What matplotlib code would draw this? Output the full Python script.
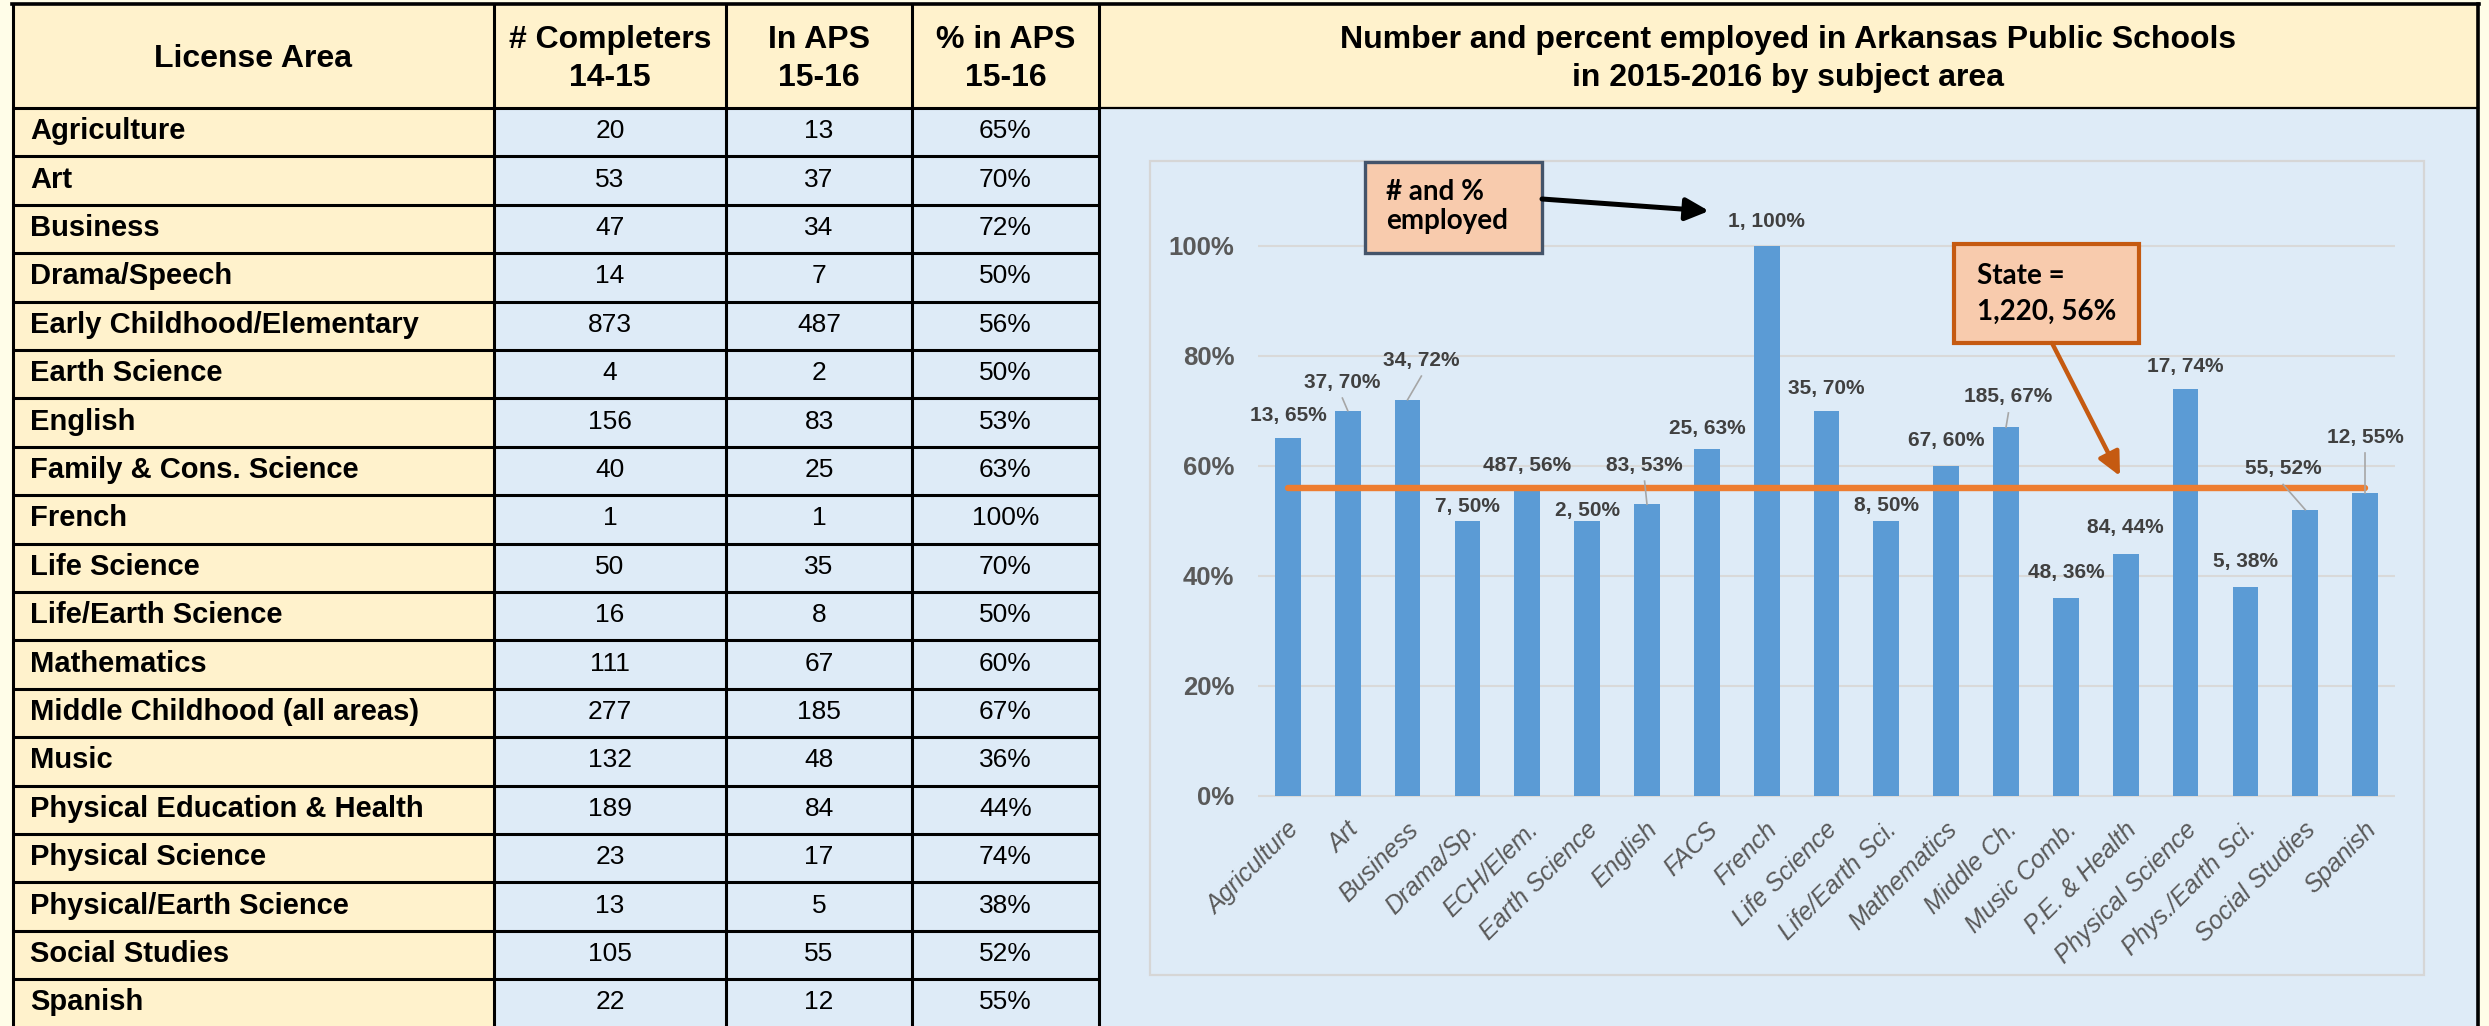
import matplotlib
matplotlib.use("Agg")
import matplotlib.pyplot as plt
from matplotlib.patches import Rectangle
from matplotlib.transforms import ScaledTranslation
import numpy as np

# ---------------- data ----------------
license_areas = ["Agriculture", "Art", "Business", "Drama/Speech", "Early Childhood/Elementary",
                 "Earth Science", "English", "Family & Cons. Science", "French", "Life Science",
                 "Life/Earth Science", "Mathematics", "Middle Childhood (all areas)", "Music",
                 "Physical Education & Health", "Physical Science", "Physical/Earth Science",
                 "Social Studies", "Spanish"]
completers = [20, 53, 47, 14, 873, 4, 156, 40, 1, 50, 16, 111, 277, 132, 189, 23, 13, 105, 22]
in_aps = [13, 37, 34, 7, 487, 2, 83, 25, 1, 35, 8, 67, 185, 48, 84, 17, 5, 55, 12]
pct_in_aps = [65, 70, 72, 50, 56, 50, 53, 63, 100, 70, 50, 60, 67, 36, 44, 74, 38, 52, 55]

chart_categories = ["Agriculture", "Art", "Business", "Drama/Sp.", "ECH/Elem.", "Earth Science",
                    "English", "FACS", "French", "Life Science", "Life/Earth Sci.", "Mathematics",
                    "Middle Ch.", "Music Comb.", "P.E. & Health", "Physical Science",
                    "Phys./Earth Sci.", "Social Studies", "Spanish"]
state_count = "1,220"
state_pct = 56

headers = [["License Area"], ["# Completers", "14-15"], ["In APS", "15-16"], ["% in APS", "15-16"]]
chart_title = ["Number and percent employed in Arkansas Public Schools", "in 2015-2016 by subject area"]
yticks = [0, 20, 40, 60, 80, 100]

# ---------------- layout (pixels / offsets) ----------------
W, H, DPI = 2489, 1026, 100
col_x = [13, 494, 726, 912, 1099]
panel_r = 2478
top_y, head_b, row_h = 4, 108, 48.4
# data label placement: (x offset in category units, y position in fraction)
lab_dx = [0, -0.09, 0.23, 0, 0, 0, -0.04, 0, 0, 0, 0, 0, 0.04, 0, 0, 0, 0, -0.37, 0]
lab_y = [0.691, 0.752, 0.792, 0.525, 0.601, 0.518, 0.601, 0.667, 1.044, 0.741, 0.527,
         0.645, 0.725, 0.406, 0.487, 0.781, 0.426, 0.595, 0.652]
leader = [0, 1, 1, 0, 0, 0, 1, 0, 0, 0, 0, 0, 1, 0, 0, 0, 0, 1, 1]

YEL = "#FFF2CC"
BLUE = "#DEEBF7"
plt.rcParams["font.family"] = ["Liberation Sans", "DejaVu Sans"]

fig = plt.figure(figsize=(W / DPI, H / DPI), dpi=DPI)
fig.patch.set_facecolor("#FFFDE8")

bg = fig.add_axes([0, 0, 1, 1])
bg.set_xlim(0, W); bg.set_ylim(H, 0); bg.axis("off"); bg.set_zorder(0)

# cell fills
bg.add_patch(Rectangle((col_x[0], top_y), col_x[4] - col_x[0], head_b - top_y, fc=YEL, ec="none"))
bg.add_patch(Rectangle((col_x[4], top_y), panel_r - col_x[4], head_b - top_y, fc=YEL, ec="none"))
bg.add_patch(Rectangle((col_x[0], head_b), col_x[1] - col_x[0], H - head_b, fc=YEL, ec="none"))
bg.add_patch(Rectangle((col_x[1], head_b), col_x[4] - col_x[1], H - head_b, fc=BLUE, ec="none"))
bg.add_patch(Rectangle((col_x[4], head_b), panel_r - col_x[4], H - head_b, fc=BLUE, ec="none"))
# chart area border
bg.add_patch(Rectangle((1150, 161), 2424 - 1150, 975 - 161, fc="none", ec="#D6D6D6", lw=1.6))

# table lines
n = len(license_areas)
for i in range(n + 1):
    y = head_b + i * row_h
    bg.plot([col_x[0], col_x[4]], [y, y], color="black", lw=2.2, solid_capstyle="butt")
for x in col_x:
    bg.plot([x, x], [top_y, H], color="black", lw=2.2, solid_capstyle="butt")
bg.plot([col_x[0] - 1, panel_r + 1], [top_y, top_y], color="black", lw=2.6)
bg.plot([panel_r, panel_r], [top_y, H], color="black", lw=2.6)
bg.plot([col_x[4], panel_r], [head_b, head_b], color="black", lw=1.6)

# header texts
for j, lines in enumerate(headers):
    cx = (col_x[j] + col_x[j + 1]) / 2
    ys = [59] if len(lines) == 1 else [40, 78]
    for t, y in zip(lines, ys):
        bg.text(cx, y, t, ha="center", va="center", fontsize=23, fontweight="bold", color="black")
for t, y in zip(chart_title, [40, 78]):
    bg.text((col_x[4] + panel_r) / 2, y, t, ha="center", va="center", fontsize=23,
            fontweight="bold", color="black")

# table rows
for i in range(n):
    cy = head_b + (i + 0.5) * row_h - 1
    bg.text(30, cy, license_areas[i], ha="left", va="center", fontsize=21, fontweight="bold")
    vals = [str(completers[i]), str(in_aps[i]), f"{pct_in_aps[i]}%"]
    for j, v in enumerate(vals):
        cx = (col_x[j + 1] + col_x[j + 2]) / 2
        bg.text(cx, cy, v, ha="center", va="center", fontsize=19)

# ---------------- chart ----------------
px0, px1 = 1258, 2395
y0px, ppu = 795.7, 550.0
ymin, ymax = -0.05, 1.2
bot = y0px - ymin * ppu
top = y0px - ymax * ppu
ax = fig.add_axes([px0 / W, 1 - bot / H, (px1 - px0) / W, (bot - top) / H])
ax.set_zorder(1)
ax.patch.set_alpha(0)
x = np.arange(len(chart_categories))
vals = np.array(pct_in_aps) / 100.0
ax.bar(x, vals, width=0.43, color="#5B9BD5", zorder=2)
ax.hlines(state_pct / 100.0, x[0], x[-1], color="#ED7D31", lw=4.6, zorder=3, capstyle="round")
ax.set_xlim(-0.5, len(x) - 0.5)
ax.set_ylim(ymin, ymax)
ax.set_yticks(np.array(yticks) / 100.0)
ax.set_yticklabels([f"{t}%" for t in yticks], fontsize=18.5, fontweight="bold", color="#595959")
ax.grid(axis="y", color="#D9D9D9", lw=1.5, zorder=0)
ax.set_axisbelow(True)
for s in ax.spines.values():
    s.set_visible(False)
ax.tick_params(axis="both", length=0)
ax.tick_params(axis="y", pad=17)
ax.set_xticks(x)
ax.set_xticklabels(chart_categories, rotation=45, ha="right", va="center",
                   rotation_mode="anchor", fontsize=18, fontstyle="italic", color="#595959")
ax.tick_params(axis="x", pad=2)
off = ScaledTranslation(7 / DPI, 0, fig.dpi_scale_trans)
for lbl in ax.get_xticklabels():
    lbl.set_transform(lbl.get_transform() + off)

lead_px = 16 / ppu
for i in range(len(x)):
    lx = x[i] + lab_dx[i]
    ax.text(lx, lab_y[i], f"{in_aps[i]}, {pct_in_aps[i]}%", ha="center", va="center",
            fontsize=15, fontweight="bold", color="#404040", zorder=5, clip_on=False)
    if leader[i]:
        ax.plot([lx, x[i]], [lab_y[i] - lead_px, vals[i]], color="#A6A6A6", lw=1.2, zorder=4)

# ---------------- callouts ----------------
ov = fig.add_axes([0, 0, 1, 1])
ov.set_xlim(0, W); ov.set_ylim(H, 0); ov.axis("off"); ov.set_zorder(3)
ov.patch.set_alpha(0)
ov.add_patch(Rectangle((1365, 162), 177, 91, fc="#F8CBAD", ec="#44546A", lw=2.4))
ov.text(1386, 200, "# and %", ha="left", va="baseline", fontsize=20, fontweight="bold",
        family=["Lato", "DejaVu Sans"])
ov.text(1386, 229, "employed", ha="left", va="baseline", fontsize=20, fontweight="bold",
        family=["Lato", "DejaVu Sans"])
ov.annotate("", xy=(1709, 211), xytext=(1542, 199),
            arrowprops=dict(arrowstyle="-|>,head_length=0.7,head_width=0.34", lw=3.6,
                            color="black", shrinkA=0, shrinkB=0, mutation_scale=20))

ov.add_patch(Rectangle((1954, 244), 185, 99, fc="#F8CBAD", ec="#C55A11", lw=3.0))
ov.text(1977, 284, "State =", ha="left", va="baseline", fontsize=20, fontweight="bold",
        family=["Lato", "DejaVu Sans"])
ov.text(1977, 320, f"{state_count}, {state_pct}%", ha="left", va="baseline", fontsize=20,
        fontweight="bold", family=["Lato", "DejaVu Sans"])
ov.annotate("", xy=(2120, 476), xytext=(2052, 343),
            arrowprops=dict(arrowstyle="-|>,head_length=0.7,head_width=0.34", lw=3.2,
                            color="#C55A11", shrinkA=0, shrinkB=0, mutation_scale=20))

fig.savefig("out.png", dpi=DPI)
